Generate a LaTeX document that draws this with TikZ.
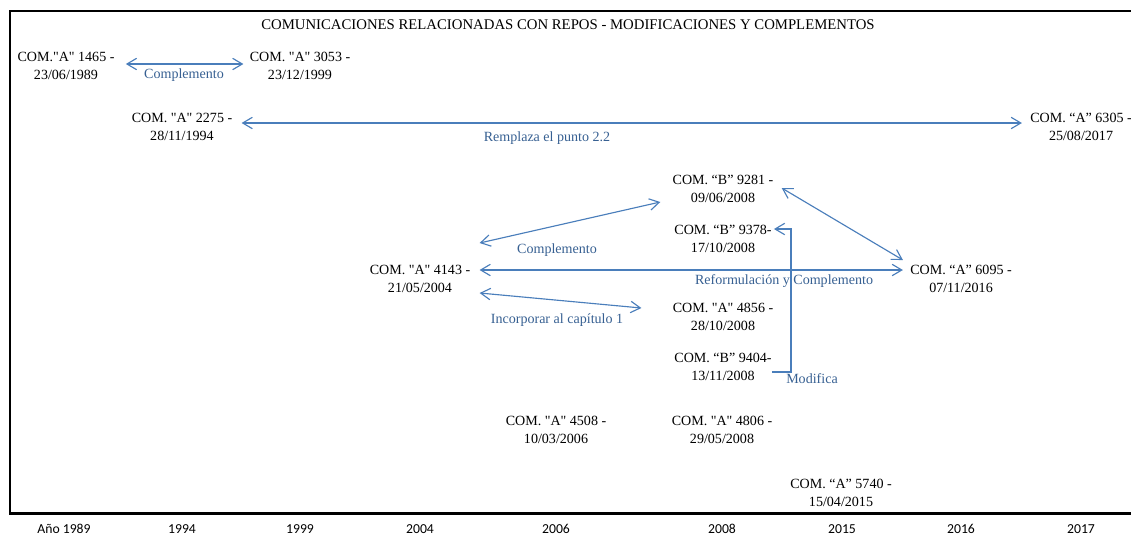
\documentclass[tikz,border=0pt]{standalone}
\usepackage{fontspec}
\setmainfont{Liberation Serif}[Ligatures=TeXOff]
\newfontfamily\yearfont{Carlito}
\usetikzlibrary{arrows.meta,calc}
\definecolor{linkblue}{RGB}{74,126,187}
\definecolor{textblue}{RGB}{55,96,146}

\begin{document}
\begin{tikzpicture}
[
	              x = 0.02cm,
	              y = -0.02cm,
	             >= {Straight Barb[length=5.5pt,width=6.5pt]},
	     com/.style = { draw=none, align=center, inner sep=0pt, font=\fontsize{8}{10.2}\selectfont },
	     lbl/.style = { draw=none, text=textblue, inner sep=0pt, font=\fontsize{8}{10.2}\selectfont },
	   title/.style = { draw=none, inner sep=0pt, font=\fontsize{8.4}{10}\selectfont },
	    year/.style = { draw=none, inner sep=0pt, font=\yearfont\fontsize{7.8}{9}\selectfont },
	    link/.style = { draw=linkblue, line width=0.65pt },
	   frame/.style = { draw=black, line width=1.7pt }
]
    \useasboundingbox (0,0) rectangle (1131,535);

    \draw[frame] (1131,11) -- (10,11) -- (10,513) -- (1131,513);

    \node (title)            at (568, 25) [title] {COMUNICACIONES RELACIONADAS CON REPOS - MODIFICACIONES Y COMPLEMENTOS};

    \node (com1465)          at ( 66, 66) [com]   {COM."A" 1465 -\\23/06/1989};
    \node (com3053)          at (300, 66) [com]   {COM. "A" 3053 -\\23/12/1999};
    \node (com2275)          at (182,127) [com]   {COM. "A" 2275 -\\28/11/1994};
    \node (com6305)          at (1081,127) [com]  {COM. “A” 6305 -\\25/08/2017};

    \node (com9281)          at (723,189) [com]   {COM. “B” 9281 -\\09/06/2008};
    \node (com9378)          at (723,239) [com]   {COM. “B” 9378-\\17/10/2008};
    \node (com4143)          at (420,279) [com]   {COM. "A" 4143 -\\21/05/2004};
    \node (com6095)          at (961,279) [com]   {COM. “A” 6095 -\\07/11/2016};
    \node (com4856)          at (723,317) [com]   {COM. "A" 4856 -\\28/10/2008};
    \node (com9404)          at (723,367) [com]   {COM. “B” 9404-\\13/11/2008};

    \node (com4508)          at (556,430) [com]   {COM. "A" 4508 -\\10/03/2006};
    \node (com4806)          at (722,430) [com]   {COM. "A" 4806 -\\29/05/2008};
    \node (com5740)          at (841,493) [com]   {COM. “A” 5740 -\\15/04/2015};

    \node (lblComplementoA)  at (184, 75) [lbl]   {Complemento};
    \node (lblRemplaza)      at (547,138) [lbl]   {Remplaza el punto 2.2};
    \node (lblComplementoB)  at (557,250) [lbl]   {Complemento};
    \node (lblReformulacion) at (784,281) [lbl]   {Reformulación y Complemento};
    \node (lblIncorporar)    at (557,320) [lbl]   {Incorporar al capítulo 1};
    \node (lblModifica)      at (812,379) [lbl]   {Modifica};

    \draw[link,<->] ($(com1465.east)+(11,-2)$) -- ($(com3053.west)+(-6,-2)$);
    \draw[link,<->] ($(com2275.east)+(9,-4)$)  -- ($(com6305.west)+(-8,-4)$);
    \draw[link,<->] ($(com4143.east)+(9,-36)$) -- ($(com9281.west)+(-12,13)$);
    \draw[link,<->] ($(com4143.east)+(9,-9)$)  -- ($(com6095.west)+(-7,-9)$);
    \draw[link,<->] ($(com4143.east)+(9,14)$)  -- ($(com4856.west)+(-31,-9)$);
    \draw[link,<->] ($(com9281.east)+(8,-1)$)  -- ($(com6095.west)+(-7,-19)$);
    \draw[link,->]  ($(com9404.east)+(0,5)$) -| ($(com9378.east)+(19,-10)$) -- ($(com9378.east)+(2,-10)$);

    \node (yr1989)           at ( 64,529) [year]  {Año 1989};
    \node (yr1994)           at (182,529) [year]  {1994};
    \node (yr1999)           at (300,529) [year]  {1999};
    \node (yr2004)           at (420,529) [year]  {2004};
    \node (yr2006)           at (556,529) [year]  {2006};
    \node (yr2008)           at (722,529) [year]  {2008};
    \node (yr2015)           at (842,529) [year]  {2015};
    \node (yr2016)           at (961,529) [year]  {2016};
    \node (yr2017)           at (1081,529) [year] {2017};

\end{tikzpicture}
\end{document}
